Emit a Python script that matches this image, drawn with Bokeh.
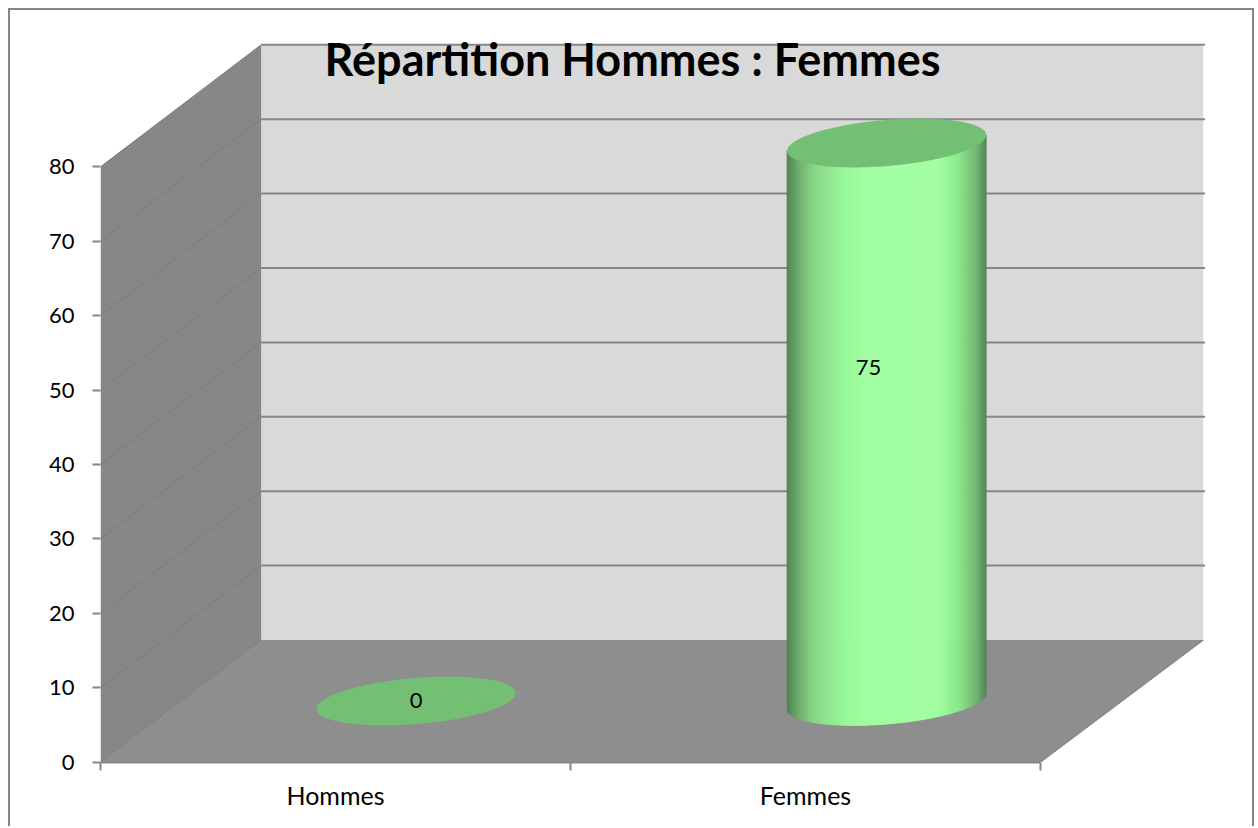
import numpy as np
from bokeh.embed import file_html
from bokeh.resources import INLINE
from bokeh.plotting import figure
from bokeh.models import Range1d, LinearAxis, FixedTicker
from bokeh.core.properties import value

title_text = "Répartition Hommes : Femmes"
categories = ["Hommes", "Femmes"]
counts = [0, 75]
y_ticks = [0, 10, 20, 30, 40, 50, 60, 70, 80]
y_tick_labels = ["0", "10", "20", "30", "40", "50", "60", "70", "80"]

# Projection of the Excel-like 3D scene
PX_PER_CAT = 470.0
PX_PER_VAL = 7.44
DEPTH_DX = 160.7 / PX_PER_CAT      # category units for depth 0 -> 1
DEPTH_DY = 122.0 / PX_PER_VAL      # value units for depth 0 -> 1
PERSP = 1.0021
RADIUS = 0.2                       # cylinder radius, category and depth units
VMAX = y_ticks[-1]
NCAT = len(categories)
W, H = 1246, 818
LEFT, BOTTOM = 90, 66
Y_START = -0.5 / PX_PER_VAL        # the zero line sits half a pixel above the frame edge


def proj(x, d, v):
    x, d, v = np.asarray(x, float), np.asarray(d, float), np.asarray(v, float)
    return x * (1 + (PERSP - 1) * d) + DEPTH_DX * d, v + DEPTH_DY * d


p = figure(width=W, height=H, output_backend="svg", toolbar_location=None,
           x_range=Range1d(0, (W - LEFT) / PX_PER_CAT),
           y_range=Range1d(Y_START, (H - BOTTOM) / PX_PER_VAL + Y_START),
           x_axis_location=None, y_axis_location=None,
           min_border_left=LEFT, min_border_bottom=BOTTOM,
           min_border_top=0, min_border_right=0,
           background_fill_color="white", border_fill_color="white",
           outline_line_color=None, margin=(8, 0, 0, 8),
           styles={"border-left": "2px solid #868686", "border-top": "2px solid #868686",
                   "border-right": "2px solid #868686"})
p.grid.visible = False

WALL_BACK = "#d9d9d9"
WALL_SIDE = "#878787"
FLOOR = "#8e8e8e"
LINE = "#868686"

# back wall, side wall, floor
xs, ys = proj([0, NCAT, NCAT, 0], [1, 1, 1, 1], [0, 0, VMAX, VMAX])
p.patch(xs, ys, fill_color=WALL_BACK, line_color=None)
xs, ys = proj([0, 0, 0, 0], [0, 1, 1, 0], [0, 0, VMAX, VMAX])
p.patch(xs, ys, fill_color=WALL_SIDE, line_color=None)
xs, ys = proj([0, NCAT, NCAT, 0], [0, 0, 1, 1], [0, 0, 0, 0])
p.patch(xs, ys, fill_color=FLOOR, line_color=None)

# grid lines
for t in y_ticks:
    if t > 0:
        xs, ys = proj([0, NCAT * 1.002], [1, 1], [t, t])
        p.line(xs, ys, line_color=LINE, line_width=2)
    xs, ys = proj([0, 0], [0, 1], [t, t])
    p.line(xs, ys, line_color="#7c7c7c", line_width=1)
xs, ys = proj([NCAT, NCAT], [0, 1], [0, 0])
p.line(xs, ys, line_color=LINE, line_width=1.5)

# cylinder shading, from silhouette left to right
stops = [0.0, 0.06, 0.127, 0.21, 0.295, 0.38, 0.76, 0.86, 0.948, 1.0]
stop_rgb = np.array([[0x50, 0x84, 0x55], [0x70, 0xb0, 0x70], [0x88, 0xd4, 0x88],
                     [0x92, 0xe8, 0x92], [0x99, 0xfb, 0x99], [0xa2, 0xff, 0xa2],
                     [0xa2, 0xff, 0xa2], [0x8b, 0xe8, 0x8b], [0x72, 0xb6, 0x72],
                     [0x50, 0x84, 0x55]])


def shade(f):
    c = [np.interp(f, stops, stop_rgb[:, i]) for i in range(3)]
    return "#%02x%02x%02x" % tuple(int(round(a)) for a in c)


def ring(xc, t):
    return xc + RADIUS * np.cos(t), 0.5 + RADIUS * np.sin(t)


t_split = np.arctan2(DEPTH_DX * RADIUS, RADIUS)  # parameter of the right silhouette point
for i, v in enumerate(counts):
    xc = i + 0.5
    if v > 0:
        t_fine = np.linspace(t_split, t_split - np.pi, 721)
        fx, fd = ring(xc, t_fine)
        fpx, _ = proj(fx, fd, 0 * fd)
        # one strip per screen pixel of the silhouette's width
        n = int(round((fpx.max() - fpx.min()) * PX_PER_CAT))
        px_edges = np.linspace(fpx.max(), fpx.min(), n + 1)
        ts = np.interp(-px_edges, -fpx, t_fine)
        rx, rd = ring(xc, ts)
        bx, by = proj(rx, rd, 0 * rd)
        tx, ty = proj(rx, rd, v + 0 * rd)
        xmin, xmax = bx.min(), bx.max()
        strip_x, strip_y, strip_c = [], [], []
        for k in range(len(ts) - 1):
            strip_x.append([bx[k], bx[k + 1], tx[k + 1], tx[k]])
            strip_y.append([by[k], by[k + 1], ty[k + 1], ty[k]])
            strip_c.append(shade(((bx[k] + bx[k + 1]) / 2 - xmin) / (xmax - xmin)))
        p.patches(strip_x, strip_y, fill_color=strip_c, line_color=strip_c, line_width=0.8)
    ts = np.linspace(0, 2 * np.pi, 181)
    rx, rd = ring(xc, ts)
    cx, cy = proj(rx, rd, v + 0 * rd)
    p.patch(cx, cy, fill_color="#73bf73", line_color=None)

# data labels
label_x_off = [0, -18]
label_y_off = [-1, -55]
lx, ly = proj([i + 0.5 for i in range(NCAT)], [0.5] * NCAT, [c / 2 for c in counts])
p.text(lx, ly, text=[str(c) for c in counts], x_offset=label_x_off, y_offset=label_y_off,
       text_font=value("Lato"), text_font_size="22px", text_color="black",
       text_align="center", text_baseline="middle")

# title
tx, ty = proj([1.0], [0.5], [VMAX])
p.text(tx - 0.04, ty + 0.0, text=[title_text], text_font=value("Lato"),
       text_font_size="45px", text_font_style="bold", text_color="black",
       text_align="center", text_baseline="middle", y_offset=[-47])

# axes
yax = LinearAxis(ticker=FixedTicker(ticks=y_ticks),
                 major_label_overrides=dict(zip(y_ticks, y_tick_labels)),
                 bounds=(0, VMAX), axis_line_color=None, major_tick_line_color=LINE,
                 major_tick_line_width=2, major_tick_out=8, major_tick_in=0, minor_tick_out=0,
                 major_label_text_font="Lato", major_label_text_font_size="22px",
                 major_label_text_color="black", major_label_standoff=18)
p.add_layout(yax, "left")
centers = [i + 0.5 for i in range(NCAT)]
xax = LinearAxis(ticker=FixedTicker(ticks=centers, minor_ticks=list(range(NCAT + 1))),
                 major_label_overrides=dict(zip(centers, categories)),
                 bounds=(0, NCAT), axis_line_color=LINE, axis_line_width=2,
                 major_tick_line_color=None, minor_tick_line_color=LINE, minor_tick_line_width=2,
                 major_tick_out=0, major_tick_in=0, minor_tick_out=8, minor_tick_in=0,
                 major_label_text_font="Lato", major_label_text_font_size="25px",
                 major_label_text_color="black", major_label_standoff=9)
p.add_layout(xax, "below")

open("out.html", "w").write(file_html(p, INLINE))
